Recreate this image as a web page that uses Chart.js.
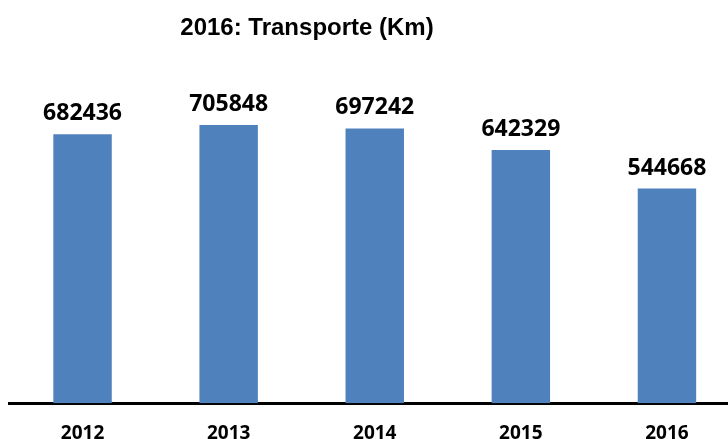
<!DOCTYPE html>
<html>
<head>
<meta charset="utf-8">
<script src="https://cdn.jsdelivr.net/npm/chart.js@4"></script>
<style>
  html, body { margin: 0; padding: 0; background: #fff; overflow: hidden; }
  #wrap { position: relative; width: 740px; height: 464px; }
  #title {
    position: absolute; left: 307px; top: 13px; transform: translateX(-50%);
    font: bold 24px "Liberation Sans Narrow", "Liberation Sans", sans-serif;
    color: #000; white-space: nowrap;
  }
</style>
</head>
<body>
<div id="wrap">
  <div id="title">2016: Transporte (Km)</div>
  <canvas id="chart" width="740" height="464"></canvas>
</div>
<script>
// datos
const years = ['2012', '2013', '2014', '2015', '2016'];
const km = [682436, 705848, 697242, 642329, 544668];

const BAR_COLOR = '#4F81BD';

// etiquetas encima de cada barra
const valueLabels = {
  id: 'valueLabels',
  afterDatasetsDraw(chart) {
    const ctx = chart.ctx;
    const meta = chart.getDatasetMeta(0);
    ctx.save();
    ctx.font = 'bold 23px "Open Sans", Lato, sans-serif';
    ctx.fillStyle = '#000';
    ctx.textAlign = 'center';
    ctx.textBaseline = 'alphabetic';
    meta.data.forEach((bar, i) => {
      ctx.fillText(String(km[i]), bar.x, bar.y - 14);
    });
    ctx.restore();
  }
};

new Chart(document.getElementById('chart'), {
  type: 'bar',
  data: {
    labels: years,
    datasets: [{
      data: km,
      backgroundColor: BAR_COLOR,
      barPercentage: 0.4,
      categoryPercentage: 1.0
    }]
  },
  options: {
    responsive: false,
    animation: false,
    layout: { padding: { left: 9.5, right: 0, top: 88, bottom: 0 } },
    plugins: {
      legend: { display: false },
      tooltip: { enabled: false },
      title: { display: false }
    },
    scales: {
      x: {
        grid: { display: false, drawTicks: false },
        border: { color: '#000', width: 3 },
        ticks: {
          color: '#000',
          padding: 19,
          font: { family: '"Open Sans"', size: 19, weight: 'bold' }
        }
      },
      y: {
        display: false,
        min: 0,
        max: 800000
      }
    }
  },
  plugins: [valueLabels]
});
</script>
</body>
</html>
